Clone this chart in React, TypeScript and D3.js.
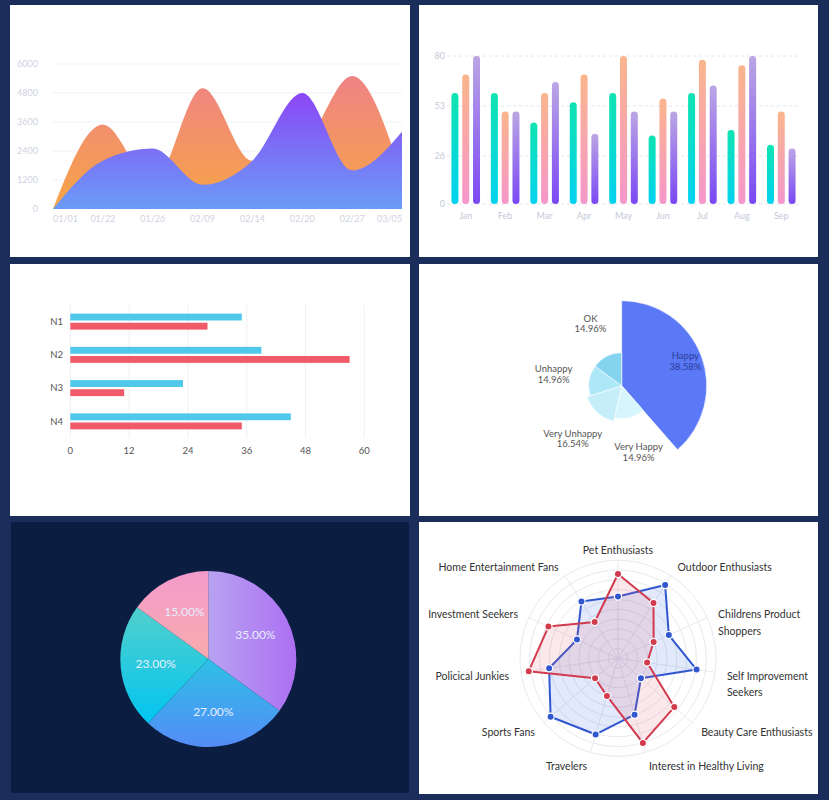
import React from 'react';
import * as d3 from 'd3';

// ---- data ----
const areaDates = ['01/01', '01/22', '01/26', '02/09', '02/14', '02/20', '02/27', '03/05'];
const areaOrange = [0, 3500, 1100, 5000, 2000, 2600, 5500, 1400];
const areaPurple = [0, 2000, 2500, 1000, 2000, 4800, 1600, 3200];
const areaTicks = [0, 1200, 2400, 3600, 4800, 6000];

const months = ['Jan', 'Feb', 'Mar', 'Apr', 'May', 'Jun', 'Jul', 'Aug', 'Sep'];
const barGreen = [60, 60, 44, 55, 60, 37, 60, 40, 32];
const barOrange = [70, 50, 60, 70, 80, 57, 78, 75, 50];
const barPurple = [80, 50, 66, 38, 50, 50, 64, 80, 30];
const barTicks = [0, 26, 53, 80];

const hbarCats = ['N1', 'N2', 'N3', 'N4'];
const hbarBlue = [35, 39, 23, 45];
const hbarRed = [28, 57, 11, 35];
const hbarTicks = [0, 12, 24, 36, 48, 60];

const roseNames = ['Happy', 'Very Happy', 'Very Unhappy', 'Unhappy', 'OK'];
const roseValues = [38.58, 14.96, 16.54, 14.96, 14.96];
const roseColors = ['#5b78f6', '#d7f5fc', '#c6eefa', '#ade7f8', '#84d4f0'];

const pieValues = [35, 27, 23, 15];

const radarAxes = [
  'Pet Enthusiasts', 'Outdoor Enthusiasts', 'Childrens Product\nShoppers', 'Self Improvement\nSeekers',
  'Beauty Care Enthusiasts', 'Interest in Healthy Living', 'Travelers', 'Sports Fans',
  'Policical Junkies', 'Investment Seekers', 'Home Entertainment Fans',
];
const radarBlue = [63, 89, 57, 81, 31, 60, 81, 91, 71, 46, 69];
const radarRed = [86, 67, 40, 30, 76, 90, 40, 31, 92, 78, 44];

const FONT = "Lato, 'Liberation Sans', sans-serif";

function AreaPanel() {
  const x = d3.scalePoint<string>().domain(areaDates).range([53, 402]);
  const y = d3.scaleLinear().domain([0, 6000]).range([209, 64]);
  const mk = (vals: number[]) =>
    d3.area<number>()
      .x((d, i) => x(areaDates[i])!)
      .y0(y(0))
      .y1(d => y(d))
      .curve(d3.curveMonotoneX)(vals) || '';
  return (
    <g>
      <defs>
        <linearGradient id="gAreaO" x1="0" y1="0" x2="0" y2="1">
          <stop offset="0" stopColor="#ef8385" />
          <stop offset="1" stopColor="#f6a545" />
        </linearGradient>
        <linearGradient id="gAreaP" x1="0" y1="0" x2="0" y2="1">
          <stop offset="0" stopColor="#8b47f5" />
          <stop offset="1" stopColor="#6a9cf7" />
        </linearGradient>
      </defs>
      {areaTicks.map(t => (
        <g key={t}>
          {t > 0 && <line x1={52} x2={402} y1={y(t)} y2={y(t)} stroke="#f0f1f8" />}
          <text x={38} y={y(t)} dy="0.35em" textAnchor="end" fontSize={9} fill="#cfd2e2">{t}</text>
        </g>
      ))}
      <path d={mk(areaOrange)} fill="url(#gAreaO)" />
      <path d={mk(areaPurple)} fill="url(#gAreaP)" />
      {areaDates.map((d, i) => (
        <text key={d} x={x(d)} y={222} fontSize={9} fill="#cfd2e2"
          textAnchor={i === 0 ? 'start' : i === areaDates.length - 1 ? 'end' : 'middle'}>{d}</text>
      ))}
    </g>
  );
}

function BarPanel() {
  const x0 = d3.scaleBand<string>().domain(months).range([446, 801]);
  const keys = ['g', 'o', 'p'];
  const x1 = d3.scaleBand<string>().domain(keys).range([-14.3, 14.3]).paddingInner(0.352);
  const y = d3.scaleLinear().domain([0, 80]).range([204, 56]);
  const series = [barGreen, barOrange, barPurple];
  const bw = x1.bandwidth();
  return (
    <g>
      <defs>
        <linearGradient id="gBarG" x1="0" y1="0" x2="0" y2="1">
          <stop offset="0" stopColor="#10e3b2" />
          <stop offset="1" stopColor="#02d2f0" />
        </linearGradient>
        <linearGradient id="gBarO" x1="0" y1="0" x2="0" y2="1">
          <stop offset="0" stopColor="#fab58c" />
          <stop offset="1" stopColor="#f597cb" />
        </linearGradient>
        <linearGradient id="gBarP" x1="0" y1="0" x2="0" y2="1">
          <stop offset="0" stopColor="#bba6e4" />
          <stop offset="1" stopColor="#7a48f4" />
        </linearGradient>
      </defs>
      {barTicks.map(t => (
        <g key={t}>
          <line x1={447} x2={801} y1={y(t)} y2={y(t)} stroke="#e4e6ee" strokeDasharray="3,3" />
          <text x={445} y={y(t)} dy="0.35em" textAnchor="end" fontSize={9} fill="#c4c8d8">{t}</text>
        </g>
      ))}
      {months.map((m, i) => {
        const cx = x0(m)! + x0.bandwidth() / 2;
        return (
          <g key={m}>
            {keys.map((k, j) => (
              <rect key={k} x={cx + x1(k)!} y={y(series[j][i])} width={bw}
                height={y(0) - y(series[j][i])} rx={bw / 2}
                fill={`url(#gBar${k.toUpperCase()})`} />
            ))}
            <text x={cx} y={219} textAnchor="middle" fontSize={9} fill="#c4c8d8">{m}</text>
          </g>
        );
      })}
    </g>
  );
}

function HBarPanel() {
  const x = d3.scaleLinear().domain([0, 60]).range([70.3, 364.3]);
  const y = d3.scaleBand<string>().domain(hbarCats).range([305, 438]);
  const inner = d3.scaleBand<string>().domain(['b', 'r']).range([-8, 8]).paddingInner(0.25);
  return (
    <g>
      {hbarTicks.map(t => (
        <g key={t}>
          <line x1={x(t)} x2={x(t)} y1={305} y2={438} stroke="#eef0f4" />
          <text x={x(t)} y={454} textAnchor="middle" fontSize={9.5} fill="#555">{t}</text>
        </g>
      ))}
      {hbarCats.map((c, i) => {
        const cy = y(c)! + y.bandwidth() / 2;
        return (
          <g key={c}>
            <rect x={x(0)} y={cy + inner('b')!} width={x(hbarBlue[i]) - x(0)} height={inner.bandwidth()} fill="#4fc8ec" />
            <rect x={x(0)} y={cy + inner('r')!} width={x(hbarRed[i]) - x(0)} height={inner.bandwidth()} fill="#f15a69" />
            <text x={63} y={cy} dy="0.35em" textAnchor="end" fontSize={9.5} fill="#555">{c}</text>
          </g>
        );
      })}
    </g>
  );
}

function RosePanel() {
  const cx = 621.7, cy = 385.7;
  const arcs = d3.pie<number>().sort(null).value(d => d)(roseValues);
  const r = d3.scaleLinear().domain([0, d3.max(roseValues)!]).range([0, 85]);
  const arc = d3.arc<d3.PieArcDatum<number>>().innerRadius(0).outerRadius(d => r(d.data));
  return (
    <g transform={`translate(${cx},${cy})`}>
      {arcs.map((a, i) => (
        <path key={i} d={arc(a) || ''} fill={roseColors[i]} stroke="#fff" strokeWidth={0.6} />
      ))}
      {arcs.map((a, i) => {
        const mid = (a.startAngle + a.endAngle) / 2;
        const lr = i === 0 ? r(a.data) * 0.8 : r(a.data) + 36;
        const lx = Math.sin(mid) * lr, ly = -Math.cos(mid) * lr;
        const col = i === 0 ? '#2c3c98' : '#555';
        return (
          <text key={i} x={lx} y={ly} textAnchor="middle" fontSize={9.5} fill={col}>
            <tspan x={lx} dy="-0.25em">{roseNames[i]}</tspan>
            <tspan x={lx} dy="1.1em">{a.data.toFixed(2)}%</tspan>
          </text>
        );
      })}
    </g>
  );
}

function PiePanel() {
  const cx = 208.3, cy = 659, R = 88;
  const arcs = d3.pie<number>().sort(null).value(d => d)(pieValues);
  const arc = d3.arc<d3.PieArcDatum<number>>().innerRadius(0).outerRadius(R);
  const total = d3.sum(pieValues);
  const fills = ['url(#gPie0)', 'url(#gPie1)', 'url(#gPie2)', 'url(#gPie3)'];
  return (
    <g transform={`translate(${cx},${cy})`}>
      <defs>
        <linearGradient id="gPie0" x1="0" y1="0" x2="1" y2="0">
          <stop offset="0" stopColor="#b7a2f2" />
          <stop offset="1" stopColor="#ad6ff2" />
        </linearGradient>
        <linearGradient id="gPie1" x1="0" y1="0" x2="0" y2="1">
          <stop offset="0" stopColor="#2ec0e6" />
          <stop offset="1" stopColor="#548cf8" />
        </linearGradient>
        <linearGradient id="gPie2" x1="0" y1="0" x2="0" y2="1">
          <stop offset="0" stopColor="#52cfcc" />
          <stop offset="1" stopColor="#02c5f0" />
        </linearGradient>
        <linearGradient id="gPie3" x1="0" y1="0" x2="0" y2="1">
          <stop offset="0" stopColor="#f49bcc" />
          <stop offset="1" stopColor="#f8abad" />
        </linearGradient>
      </defs>
      {arcs.map((a, i) => <path key={i} d={arc(a) || ''} fill={fills[i]} />)}
      {arcs.map((a, i) => {
        const mid = (a.startAngle + a.endAngle) / 2;
        const lr = R * 0.6;
        return (
          <text key={i} x={Math.sin(mid) * lr} y={-Math.cos(mid) * lr} dy="0.35em" textAnchor="middle"
            fontSize={12} fill="#e6eeff">{((a.data / total) * 100).toFixed(2)}%</text>
        );
      })}
    </g>
  );
}

function RadarPanel() {
  const cx = 618, cy = 658.3, R = 98;
  const r = d3.scaleLinear().domain([0, 100]).range([0, R]);
  const n = radarAxes.length;
  const ang = (i: number) => (i * 2 * Math.PI) / n;
  const line = d3.lineRadial<number>().angle((d, i) => ang(i)).radius(d => r(d)).curve(d3.curveLinearClosed);
  const rings = d3.range(1, 11).map(k => k * 10);
  const pts = (vals: number[]) => vals.map((v, i) => [Math.sin(ang(i)) * r(v), -Math.cos(ang(i)) * r(v)]);
  return (
    <g transform={`translate(${cx},${cy})`}>
      {rings.map(v => <circle key={v} r={r(v)} fill="none" stroke="#e9e9ef" />)}
      {radarAxes.map((a, i) => (
        <line key={a} x1={0} y1={0} x2={Math.sin(ang(i)) * R} y2={-Math.cos(ang(i)) * R} stroke="#e9e9ef" />
      ))}
      <path d={line(radarBlue) || ''} fill="rgba(70,120,230,0.16)" stroke="#3157d0" strokeWidth={2} strokeLinejoin="round" />
      <path d={line(radarRed) || ''} fill="rgba(230,90,110,0.14)" stroke="#d23a4d" strokeWidth={2} strokeLinejoin="round" />
      {pts(radarBlue).map((p, i) => <circle key={'b' + i} cx={p[0]} cy={p[1]} r={3.6} fill="#3157d0" stroke="#fff" strokeWidth={1.2} />)}
      {pts(radarRed).map((p, i) => <circle key={'r' + i} cx={p[0]} cy={p[1]} r={3.6} fill="#d23a4d" stroke="#fff" strokeWidth={1.2} />)}
      {radarAxes.map((a, i) => {
        const s = Math.sin(ang(i)), c = -Math.cos(ang(i));
        const lx = s * (R + 12), ly = c * (R + 12) + 2;
        const anchor = Math.abs(s) < 0.05 ? 'middle' : s > 0 ? 'start' : 'end';
        return (
          <text key={a} x={lx} y={ly} dy="0.35em" textAnchor={anchor} fontSize={10.5} fill="#333">
            {a.split('\n').map((t, j) => <tspan key={j} x={lx} dy={j === 0 ? '0.35em' : '1.6em'}>{t}</tspan>)}
          </text>
        );
      })}
    </g>
  );
}

export default function App() {
  const panels = [
    { x: 10, y: 5, w: 400, h: 252, fill: '#ffffff' },
    { x: 419, y: 5, w: 399, h: 252, fill: '#ffffff' },
    { x: 10, y: 264, w: 400, h: 252, fill: '#ffffff' },
    { x: 419, y: 264, w: 399, h: 252, fill: '#ffffff' },
    { x: 11, y: 522, w: 398, h: 271, fill: '#0b1e42' },
    { x: 419, y: 522, w: 399, h: 272, fill: '#ffffff' },
  ];
  return (
    <svg width={829} height={800} style={{ position: 'absolute', left: 0, top: 0 }} fontFamily={FONT}>
      <rect width={829} height={800} fill="#1b2e5b" />
      {panels.map((p, i) => <rect key={i} x={p.x} y={p.y} width={p.w} height={p.h} fill={p.fill} />)}
      <AreaPanel />
      <BarPanel />
      <HBarPanel />
      <RosePanel />
      <PiePanel />
      <RadarPanel />
    </svg>
  );
}
